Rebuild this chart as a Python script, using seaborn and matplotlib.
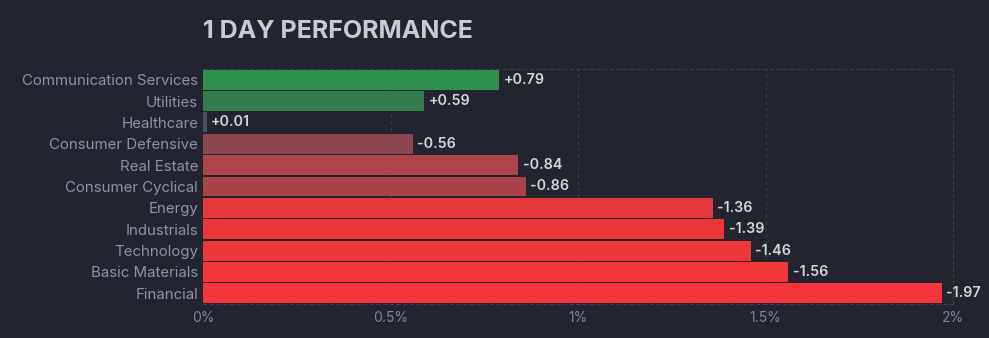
import matplotlib
matplotlib.use("Agg")
import matplotlib.pyplot as plt
import seaborn as sns
import pandas as pd

sectors = ["Communication Services", "Utilities", "Healthcare", "Consumer Defensive",
           "Real Estate", "Consumer Cyclical", "Energy", "Industrials", "Technology",
           "Basic Materials", "Financial"]
changes = [0.79, 0.59, 0.01, -0.56, -0.84, -0.86, -1.36, -1.39, -1.46, -1.56, -1.97]
bar_colors = ["#2f8f4e", "#347c50", "#4b4f5e", "#8b4550", "#b0434b", "#a9434a",
              "#e5383c", "#ed3539", "#ef363b", "#f4353a", "#f6343a"]
xticks = [0, 0.5, 1, 1.5, 2]
xticklabels = ["0%", "0.5%", "1%", "1.5%", "2%"]

bg = "#22252f"
sns.set_theme(style="dark")
plt.rcParams['font.family'] = ['Inter', 'DejaVu Sans']

df = pd.DataFrame({"sector": sectors, "magnitude": [abs(v) for v in changes]})

fig = plt.figure(figsize=(9.89, 3.38), dpi=100, facecolor=bg)
ax = fig.add_axes([203/989, 1-304/338, 750/989, 235/338])
ax.set_facecolor(bg)

sns.barplot(data=df, x="magnitude", y="sector", hue="sector", palette=bar_colors,
            legend=False, width=0.93, ax=ax, saturation=1, edgecolor="none")

ax.set_xlim(0, 2)
ax.set_ylim(10.5, -0.5)
ax.set_xticks(xticks)
ax.set_xticklabels(xticklabels, color="#7f8496", fontsize=10)
ax.tick_params(axis="y", colors="#8d92a5", labelsize=10.8, length=0, pad=3.5)
ax.tick_params(axis="x", length=0, pad=5)
for lbl in ax.get_yticklabels():
    lbl.set_color("#8d92a5")
ax.set_xlabel("")
ax.set_ylabel("")

grid_c = "#3b3f4d"
for xv in xticks[1:]:
    ax.axvline(xv, color=grid_c, lw=0.8, ls=(0, (3, 3)), zorder=0)
for side in ["top", "bottom", "right"]:
    ax.spines[side].set_visible(True)
    ax.spines[side].set_color(grid_c)
    ax.spines[side].set_linestyle((0, (3, 3)))
    ax.spines[side].set_linewidth(0.8)
ax.spines["left"].set_visible(False)
ax.grid(False)

for i, v in enumerate(changes):
    ax.text(abs(v) + 0.012, i, f"{v:+.2f}", va="center", ha="left",
            color="#d4d6de", fontsize=10.3, fontweight="semibold")

fig.text(203/989, 1-32/338, "1 DAY PERFORMANCE", color="#c8cad4", fontsize=18,
         fontweight="bold", va="center", ha="left")

fig.savefig("out.png", dpi=100, facecolor=bg)
